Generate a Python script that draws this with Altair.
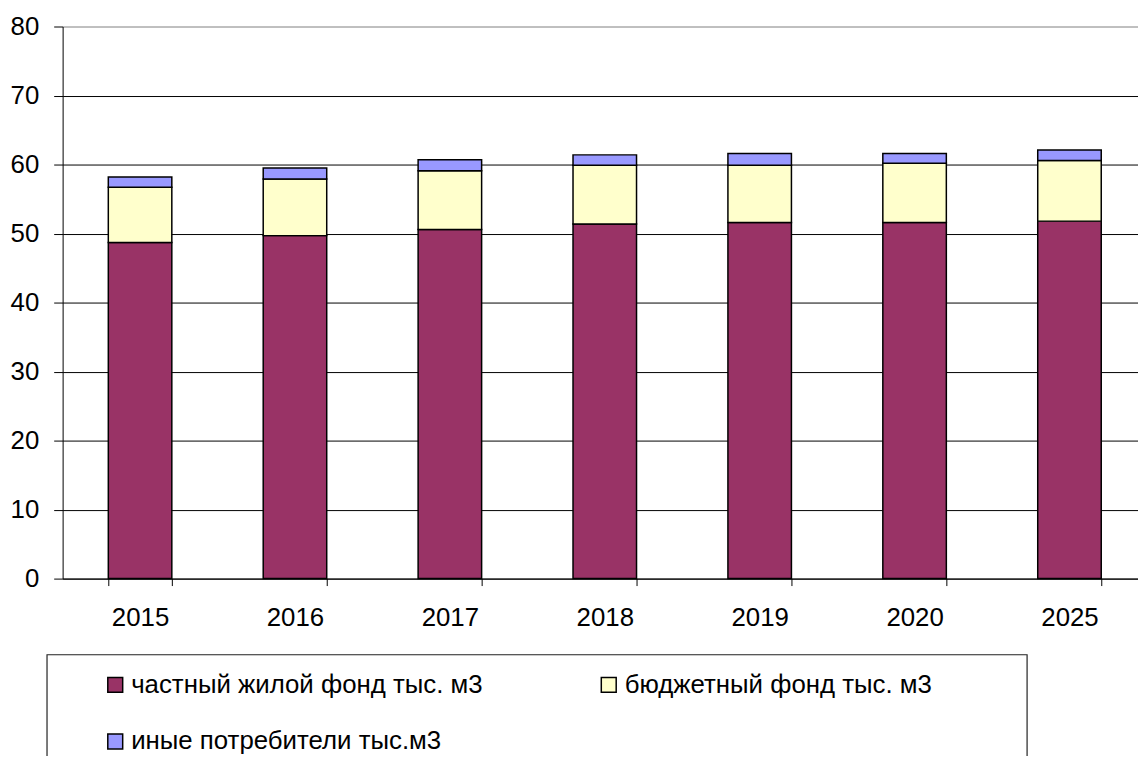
import altair as alt
import pandas as pd

years = ["2015", "2016", "2017", "2018", "2019", "2020", "2025"]
series = ["частный жилой фонд тыс. м3", "бюджетный фонд тыс. м3", "иные потребители тыс.м3"]
private_housing = [48.7, 49.7, 50.6, 51.4, 51.6, 51.6, 51.8]
budget_fund = [8.0, 8.2, 8.5, 8.5, 8.3, 8.6, 8.8]
other_consumers = [1.5, 1.6, 1.6, 1.5, 1.7, 1.4, 1.5]
colors = ["#993366", "#FFFFCC", "#9999FF"]

rows = []
for i, y in enumerate(years):
    for k, vals in enumerate([private_housing, budget_fund, other_consumers]):
        rows.append({"year": y, "series": series[k], "value": vals[i], "ord": k})
df = pd.DataFrame(rows)

FONT = "Liberation Sans"

bars = alt.Chart(df).mark_bar(stroke="black", strokeWidth=1.5).encode(
    x=alt.X("year:N", sort=years,
            scale=alt.Scale(range=[0, 1092], paddingInner=0.59, paddingOuter=0.295),
            axis=alt.Axis(title=None, labelAngle=0, tickBand="extent", tickSize=7,
                          labelPadding=19, labelFontSize=26, labelColor="black",
                          domainColor="black", tickColor="black", grid=False)),
    y=alt.Y("value:Q", stack="zero",
            scale=alt.Scale(domain=[0, 80], nice=False),
            axis=alt.Axis(title=None, values=[0, 10, 20, 30, 40, 50, 60, 70, 80],
                          tickSize=9, labelPadding=15, labelFontSize=26, labelColor="black",
                          domainColor="black", tickColor="black",
                          gridColor=alt.expr("datum.value == 80 ? '#808080' : '#000000'"),
                          gridWidth=1)),
    color=alt.Color("series:N", sort=series,
                    scale=alt.Scale(domain=series, range=colors),
                    legend=alt.Legend(title=None, orient="none", legendX=40, legendY=650,
                                      direction="horizontal",
                                      columns=2, columnPadding=113, rowPadding=31,
                                      symbolType="square", symbolSize=225,
                                      symbolStrokeColor="black", symbolStrokeWidth=1.5,
                                      symbolOpacity=1,
                                      labelFontSize=26, labelColor="black", labelOffset=3,
                                      labelLimit=600, padding=0)),
    order=alt.Order("ord:Q"),
)

box = alt.Chart(alt.Data(values=[{"a": 1}])).mark_rect(
    fill="white", stroke="#222222", strokeWidth=1.2
).encode(
    x=alt.value(-15.7), x2=alt.value(971.3), y=alt.value(632.7), y2=alt.value(800)
)

chart = alt.layer(box, bars).properties(
    width=1083, height=556,
    autosize=alt.AutoSizeParams(type="none"),
    padding={"left": 55, "top": 16, "right": 0, "bottom": 176},
).configure(font=FONT).configure_view(stroke=None)

chart.save("out.html", embed_options={"renderer": "svg", "actions": False})
